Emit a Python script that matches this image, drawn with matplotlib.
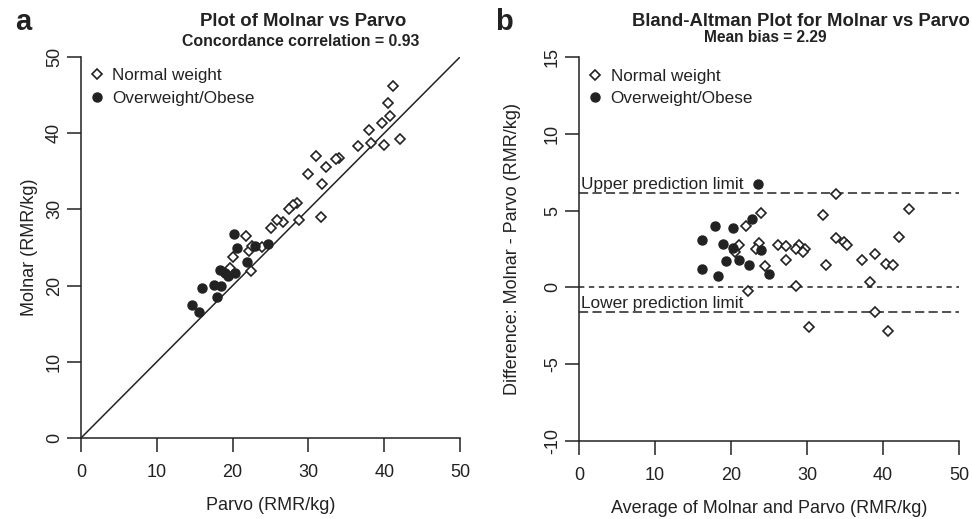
import matplotlib
matplotlib.use("Agg")
import matplotlib.pyplot as plt

plt.rcParams['font.family'] = ['Liberation Sans', 'DejaVu Sans']
plt.rcParams['axes.unicode_minus'] = False
INK = '#222222'

# panel a: Parvo vs Molnar (RMR/kg)
parvo_normal = [41.1, 40.5, 40.7, 39.7, 38.0, 42.1, 40.0, 38.2, 36.6, 34.0,
                33.6, 31.0, 32.3, 30.0, 31.8, 31.7, 28.5, 28.0, 27.4, 28.8,
                26.6, 25.8, 25.0, 21.8, 22.1, 22.6, 23.9, 20.1, 19.6, 22.4]
molnar_normal = [46.2, 44.0, 42.2, 41.3, 40.4, 39.3, 38.5, 38.7, 38.3, 36.8,
                 36.6, 37.0, 35.5, 34.6, 33.3, 29.0, 30.9, 30.6, 30.0, 28.6,
                 28.3, 28.6, 27.6, 26.5, 24.6, 25.2, 25.1, 23.8, 22.3, 21.9]
parvo_obese = [20.2, 20.6, 23.0, 24.7, 21.9, 18.3, 19.0, 19.4, 20.3, 17.5,
               18.5, 15.9, 18.0, 14.6, 15.6]
molnar_obese = [26.8, 24.9, 25.2, 25.5, 23.1, 22.1, 21.6, 21.3, 21.7, 20.1,
                19.9, 19.7, 18.5, 17.5, 16.5]

# panel b: Bland-Altman
avg_normal = [33.8, 43.4, 24.0, 32.1, 22.0, 42.1, 33.8, 34.9, 35.2, 23.7,
              21.1, 26.2, 27.2, 29.0, 28.6, 29.7, 29.5, 23.3, 20.5, 39.0,
              37.3, 27.3, 40.4, 41.3, 32.5, 24.5, 38.3, 28.6, 22.2, 39.0,
              30.3, 40.6]
diff_normal = [6.11, 5.09, 4.85, 4.74, 3.98, 3.28, 3.24, 2.96, 2.74, 2.91,
               2.74, 2.78, 2.70, 2.78, 2.52, 2.48, 2.30, 2.48, 2.30, 2.20,
               1.81, 1.76, 1.54, 1.43, 1.48, 1.39, 0.35, 0.07, -0.24, -1.61,
               -2.59, -2.85]
avg_obese = [23.5, 22.7, 17.9, 20.2, 16.2, 18.9, 20.2, 24.0, 19.3, 21.1,
             22.4, 16.2, 18.3, 25.0]
diff_obese = [6.76, 4.43, 3.98, 3.87, 3.07, 2.85, 2.57, 2.46, 1.70, 1.76,
              1.43, 1.22, 0.72, 0.89]

upper_limit = 6.15
lower_limit = -1.57

fig = plt.figure(figsize=(9.72, 5.19), dpi=100)
W, H = 972, 519
ax1 = fig.add_axes([81 / W, 1 - 438 / H, 379 / W, 381 / H])
ax2 = fig.add_axes([579 / W, 1 - 441 / H, 380 / W, 384 / H])


def style(ax):
    for s in ['top', 'right']:
        ax.spines[s].set_visible(False)
    for s in ['left', 'bottom']:
        ax.spines[s].set_color(INK)
        ax.spines[s].set_linewidth(1.1)
    ax.tick_params(axis='both', direction='out', length=10, width=1.1,
                   color=INK, labelcolor=INK, labelsize=13)
    ax.tick_params(axis='x', pad=9)
    ax.tick_params(axis='y', pad=3, labelrotation=90)
    for lab in ax.get_yticklabels():
        lab.set_va('center')


def points(ax, xn, yn, xo, yo):
    hn, = ax.plot(xn, yn, linestyle='none', marker='D', ms=5.4, mfc='white',
                  mec=INK, mew=1.2, label='Normal weight', zorder=3)
    ho, = ax.plot(xo, yo, linestyle='none', marker='o', ms=6.5, mfc=INK,
                  mec=INK, label='Overweight/Obese', zorder=3)
    ax.legend(handles=[hn, ho], loc='upper left', bbox_to_anchor=(0.02, 0.97),
              frameon=False, borderpad=0, borderaxespad=0, handlelength=1.0,
              handletextpad=0.4, labelspacing=0.42, fontsize=12.3,
              labelcolor=INK)


# ---- panel a
points(ax1, parvo_normal, molnar_normal, parvo_obese, molnar_obese)
ax1.axline((0, 0), slope=1, color=INK, lw=1.1, zorder=2)
ax1.set_xlim(0, 50)
ax1.set_ylim(0, 50)
ax1.set_xticks(range(0, 51, 10))
ax1.set_yticks(range(0, 51, 10))
style(ax1)
ax1.set_xlabel('Parvo (RMR/kg)', fontsize=13, color=INK)
ax1.set_ylabel('Molnar (RMR/kg)', fontsize=13, color=INK)
ax1.xaxis.set_label_coords(0.5, -0.178)
ax1.xaxis.label.set_va('center')
ax1.yaxis.set_label_coords(-0.135, 0.5)
ax1.yaxis.label.set_va('center')

# ---- panel b
points(ax2, avg_normal, diff_normal, avg_obese, diff_obese)
ax2.axhline(0, color=INK, lw=1.1, dashes=(3.5, 3))
ax2.axhline(upper_limit, color=INK, lw=1.1, dashes=(6, 2.8))
ax2.axhline(lower_limit, color=INK, lw=1.1, dashes=(6, 2.8))
ax2.text(0.3, upper_limit + 0.05, 'Upper prediction limit', fontsize=12.4,
         color=INK, ha='left', va='bottom')
ax2.text(0.3, lower_limit + 0.05, 'Lower prediction limit', fontsize=12.4,
         color=INK, ha='left', va='bottom')
ax2.set_xlim(0, 50)
ax2.set_ylim(-10, 15)
ax2.set_xticks(range(0, 51, 10))
ax2.set_yticks(range(-10, 16, 5))
style(ax2)
ax2.set_xlabel('Average of Molnar and Parvo (RMR/kg)', fontsize=13, color=INK)
ax2.set_ylabel('Difference: Molnar - Parvo (RMR/kg)', fontsize=13, color=INK)
ax2.xaxis.set_label_coords(0.5, -0.175)
ax2.xaxis.label.set_va('center')
ax2.yaxis.set_label_coords(-0.176, 0.5)
ax2.yaxis.label.set_va('center')

# titles and panel letters
fig.text(303 / W, 1 - 21 / H, 'Plot of Molnar vs Parvo', fontsize=13.4,
         fontweight='bold', ha='center', va='center', color=INK)
fig.text(301 / W, 1 - 41 / H, 'Concordance correlation = 0.93', fontsize=11.4,
         fontweight='bold', ha='center', va='center', color=INK)
fig.text(801 / W, 1 - 21 / H, 'Bland-Altman Plot for Molnar vs Parvo',
         fontsize=13.3, fontweight='bold', ha='center', va='center', color=INK)
fig.text(765 / W, 1 - 38 / H, 'Mean bias = 2.29', fontsize=11.2,
         fontweight='bold', ha='center', va='center', color=INK)
fig.text(15 / W, 1 - 22 / H, 'a', fontsize=21, fontweight='bold',
         ha='left', va='center', color=INK)
fig.text(495 / W, 1 - 22 / H, 'b', fontsize=21, fontweight='bold',
         ha='left', va='center', color=INK)

fig.savefig('out.png', dpi=100)
